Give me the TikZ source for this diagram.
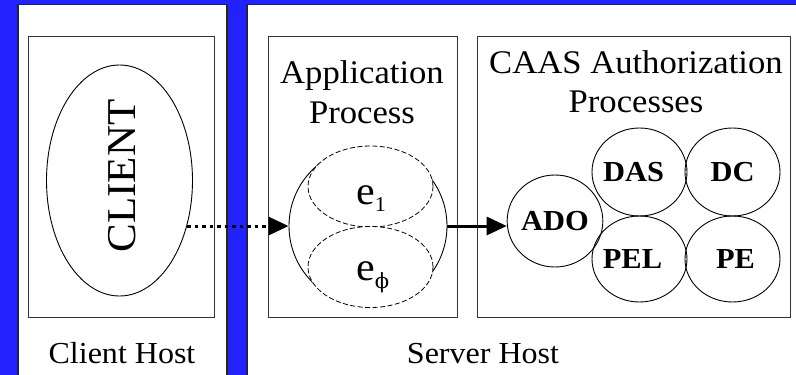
\documentclass[tikz,border=0pt]{standalone}
\usepackage{fontspec}
\setmainfont[FakeStretch=1.05]{Liberation Serif}
\newfontfamily\symbolfont{DejaVu Serif}
\usetikzlibrary{arrows.meta,shapes.geometric,calc}
\definecolor{panelblue}{RGB}{34,34,255}
\begin{document}
\begin{tikzpicture}[x=1pt,y=-1pt,
  hostpanel/.style={draw=black!85,line width=1.5pt,fill=white},
  procbox/.style={draw=black!80,line width=1pt},
  hosttext/.style={anchor=base,inner sep=0pt,font=\fontsize{30.5}{30.5}\selectfont},
  titletext/.style={anchor=base,inner sep=0pt,font=\fontsize{33}{33}\selectfont},
  proc/.style={ellipse,draw,line width=0.9pt,minimum width=95pt,minimum height=88pt,inner sep=0pt,
    font=\fontsize{29}{29}\selectfont\bfseries},
  entity/.style={ellipse,draw,dash pattern=on 5pt off 2.5pt,line width=0.8pt,fill=white,
    minimum width=125pt,minimum height=81pt,inner sep=0pt},
  dotarrow/.style={line width=3pt,dash pattern=on 3.5pt off 4pt,-{Triangle[length=20pt,width=18pt]}},
  solidarrow/.style={line width=3pt,-{Triangle[length=20pt,width=18pt]}}]

% background and host panels
\useasboundingbox (0,0) rectangle (796,375);
\fill[panelblue] (0,0) rectangle (796,375);
\draw[hostpanel] (18,4.5) rectangle (227,380);
\draw[hostpanel] (247,4.5) rectangle (802,380);

% process boxes
\draw[procbox] (28,36) rectangle (214,317);
\draw[procbox] (268,36) rectangle (457,317);
\draw[procbox] (477,36) rectangle (790,317);

% client
\node[ellipse,draw,line width=0.9pt,minimum width=146pt,minimum height=231pt,inner sep=0pt] (client) at (119.5,180.5) {};
\node[inner sep=0pt,font=\fontsize{41}{41}\selectfont] (clienttxt) at (122,176) {\rotatebox{90}{CLIENT}};

% application process with its two entities
\node[circle,draw,line width=0.9pt,minimum size=158pt,inner sep=0pt] (appc) at (368,226) {};
\node[entity] (ent1) at (370.5,186.5) {};
\node[entity] (ent2) at (370.5,267) {};
\node[anchor=base west,inner sep=0pt,font=\fontsize{40}{40}\selectfont] (e1) at (356,204)
  {e\raisebox{-7pt}{\fontsize{21}{21}\selectfont 1}};
\node[anchor=base west,inner sep=0pt,font=\fontsize{40}{40}\selectfont] (e2) at (356,280)
  {e\raisebox{-8pt}{\fontsize{21}{21}\symbolfont\selectfont ϕ}};

% authorization processes
\node[proc,minimum width=94pt,minimum height=92pt] (ado) at (555,221) {ADO};
\node[proc] (das) at (639.5,172) {\hspace*{-12pt}DAS};
\node[proc] (dc) at (732.5,172) {DC};
\node[proc,minimum height=86pt] (pel) at (639.5,259) {\raisebox{-3pt}{\hspace*{-14pt}PEL}};
\node[proc,minimum height=86pt] (pe) at (732.5,259) {\raisebox{-3pt}{\hspace*{6pt}PE}};

% titles
\node[titletext] (apptitle1) at (362,83) {Application};
\node[titletext] (apptitle2) at (362,123) {Process};
\node[titletext] (caastitle1) at (636,73) {CAAS Authorization};
\node[titletext] (caastitle2) at (636,112) {Processes};
\node[hosttext] (clienthost) at (122,363) {Client Host};
\node[hosttext] (serverhost) at (483,363) {Server Host};

% requests
\draw[dotarrow] (client.-34) -- (client.-34 -| appc.west);
\draw[solidarrow] (appc.east) -- (appc.east -| ado.west);
\end{tikzpicture}
\end{document}
